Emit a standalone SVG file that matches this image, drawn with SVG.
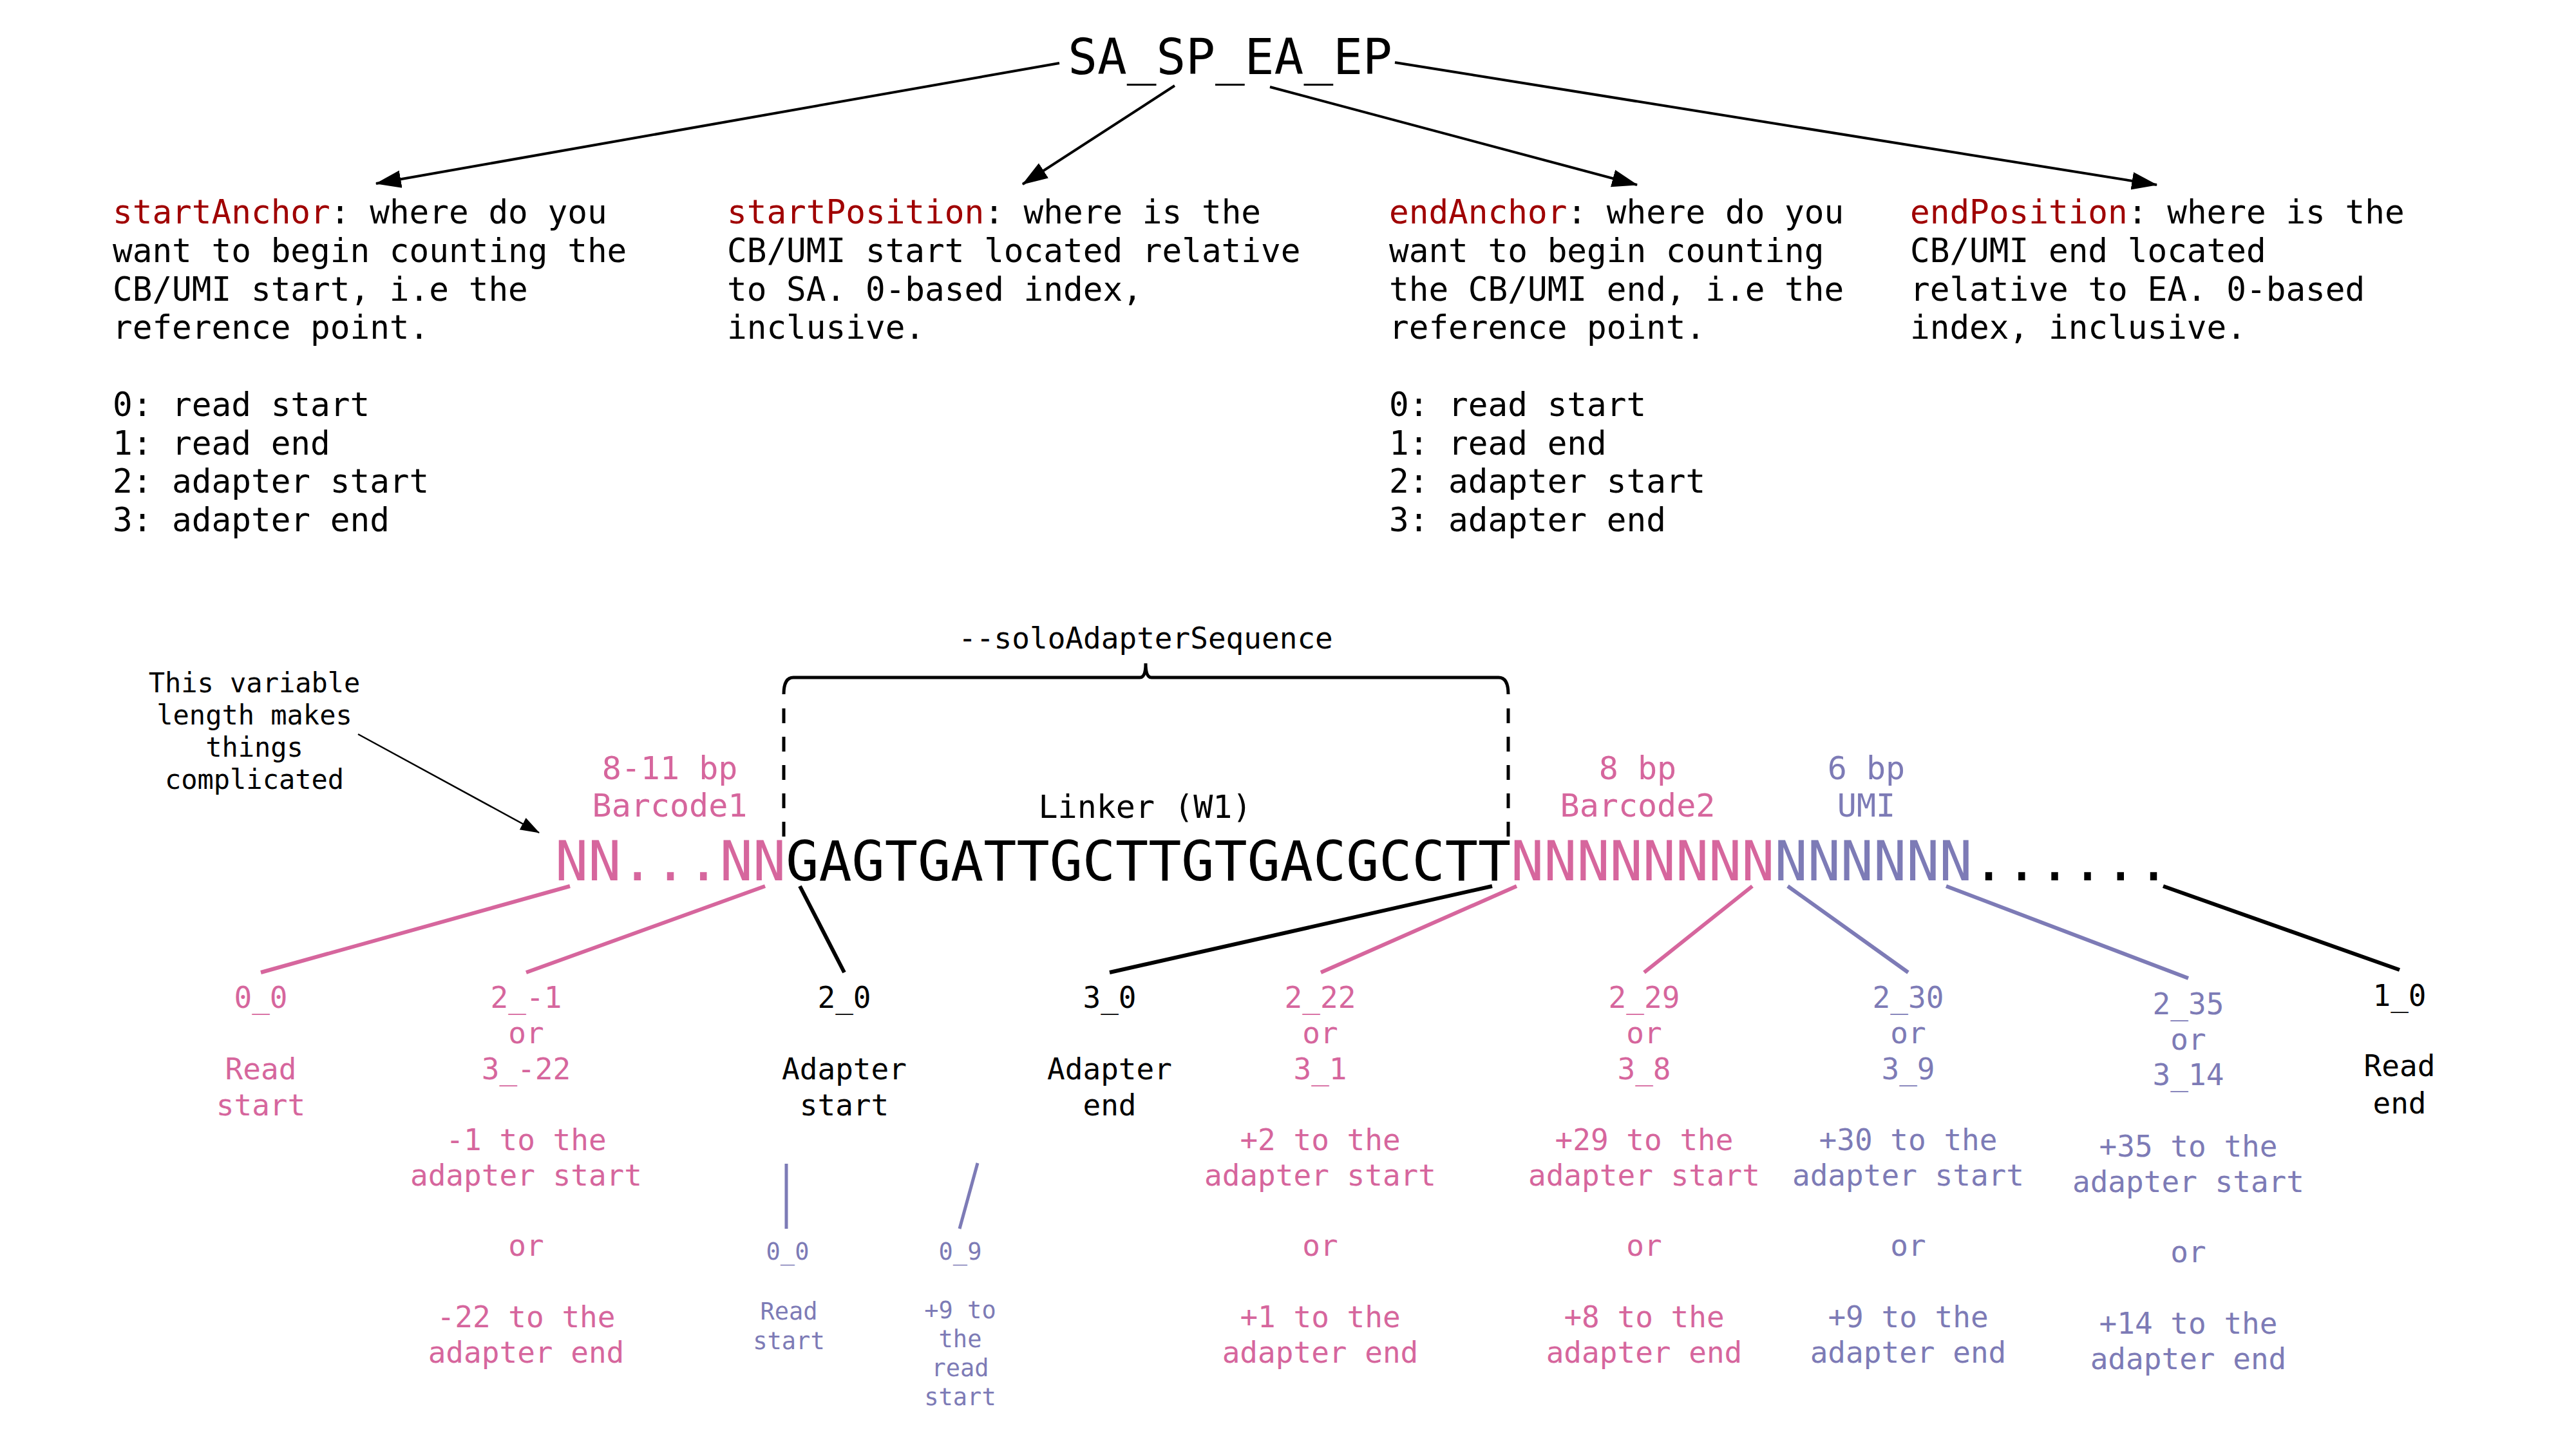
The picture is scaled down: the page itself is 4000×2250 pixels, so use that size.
<svg xmlns="http://www.w3.org/2000/svg" width="4000" height="2250" viewBox="0 0 4000 2250">
<style>
text{font-family:"DejaVu Sans Mono","Liberation Mono",monospace;fill:#000}
.top{font-size:51px}
.kw{fill:#a00000}
.lab{font-size:46px;text-anchor:middle}
.hdr{font-size:50px;text-anchor:middle}
.sm{font-size:37px;text-anchor:middle}
.pk{fill:#d6669d}
.pu{fill:#7d7bb6}
.lp{stroke:#d6669d;stroke-width:6;fill:none}
.lu{stroke:#7d7bb6;stroke-width:6;fill:none}
.lb{stroke:#000;stroke-width:6;fill:none}
.ar{stroke:#000;stroke-width:4;fill:none}
</style>
<defs>
<marker id="ah" markerUnits="userSpaceOnUse" markerWidth="40" markerHeight="30" viewBox="0 0 32 22" refX="31" refY="11" orient="auto">
<path d="M0,0 L32,11 L0,22 Z" fill="#000"/>
</marker>
<marker id="ahs" markerUnits="userSpaceOnUse" markerWidth="30" markerHeight="24" viewBox="0 0 26 18" refX="25" refY="9" orient="auto">
<path d="M0,0 L26,9 L0,18 Z" fill="#000"/>
</marker>
</defs>
<rect width="4000" height="2250" fill="#fff"/>

<g id="title">
<text x="1910" y="115" style="font-size:76px;text-anchor:middle">SA_SP_EA_EP</text>
</g>

<g id="startAnchor" class="top">
<text x="175" y="347" class="top"><tspan class="kw">startAnchor</tspan>: where do you</text>
<text x="175" y="407" class="top">want to begin counting the</text>
<text x="175" y="467" class="top">CB/UMI start, i.e the</text>
<text x="175" y="526" class="top">reference point.</text>
<text x="175" y="646" class="top">0: read start</text>
<text x="175" y="706" class="top">1: read end</text>
<text x="175" y="765" class="top">2: adapter start</text>
<text x="175" y="825" class="top">3: adapter end</text>
</g>

<g id="startPosition">
<text x="1129" y="347" class="top"><tspan class="kw">startPosition</tspan>: where is the</text>
<text x="1129" y="407" class="top">CB/UMI start located relative</text>
<text x="1129" y="467" class="top">to SA. 0-based index,</text>
<text x="1129" y="526" class="top">inclusive.</text>
</g>

<g id="endAnchor">
<text x="2157" y="347" class="top"><tspan class="kw">endAnchor</tspan>: where do you</text>
<text x="2157" y="407" class="top">want to begin counting</text>
<text x="2157" y="467" class="top">the CB/UMI end, i.e the</text>
<text x="2157" y="526" class="top">reference point.</text>
<text x="2157" y="646" class="top">0: read start</text>
<text x="2157" y="706" class="top">1: read end</text>
<text x="2157" y="765" class="top">2: adapter start</text>
<text x="2157" y="825" class="top">3: adapter end</text>
</g>

<g id="endPosition">
<text x="2966" y="347" class="top"><tspan class="kw">endPosition</tspan>: where is the</text>
<text x="2966" y="407" class="top">CB/UMI end located</text>
<text x="2966" y="467" class="top">relative to EA. 0-based</text>
<text x="2966" y="526" class="top">index, inclusive.</text>
</g>

<g id="adapterBracket">
<text x="1779" y="1007" style="font-size:46px;text-anchor:middle">--soloAdapterSequence</text>
<path d="M1217,1078 Q1217,1052 1232,1052 L1770,1052 Q1779,1052 1779,1030 Q1779,1052 1788,1052 L2327,1052 Q2342,1052 2342,1078" class="lb" style="stroke-width:5"/>
<line x1="1217" y1="1100" x2="1217" y2="1300" class="lb" style="stroke-width:5;stroke-dasharray:23,21"/>
<line x1="2342" y1="1100" x2="2342" y2="1300" class="lb" style="stroke-width:5;stroke-dasharray:23,21"/>
</g>

<g id="note">
<text x="395" y="1075" style="font-size:42px;text-anchor:middle">This variable</text>
<text x="395" y="1125" style="font-size:42px;text-anchor:middle">length makes</text>
<text x="395" y="1175" style="font-size:42px;text-anchor:middle">things</text>
<text x="395" y="1225" style="font-size:42px;text-anchor:middle">complicated</text>
</g>

<g id="segmentLabels">
<text x="1040" y="1210" class="hdr pk">8-11 bp</text>
<text x="1040" y="1268" class="hdr pk">Barcode1</text>
<text x="1778" y="1270" class="hdr">Linker (W1)</text>
<text x="2543" y="1210" class="hdr pk">8 bp</text>
<text x="2543" y="1268" class="hdr pk">Barcode2</text>
<text x="2898" y="1210" class="hdr pu">6 bp</text>
<text x="2898" y="1268" class="hdr pu">UMI</text>
</g>

<g id="sequence">
<text x="862" y="1367" style="font-size:85px"><tspan class="pk">NN...NN</tspan>GAGTGATTGCTTGTGACGCCTT<tspan class="pk">NNNNNNNN</tspan><tspan class="pu">NNNNNN</tspan>......</text>
</g>

<g id="connectors">
<line x1="1645" y1="98" x2="584" y2="285" class="ar" marker-end="url(#ah)"/>
<line x1="1824" y1="133" x2="1588" y2="286" class="ar" marker-end="url(#ah)"/>
<line x1="1972" y1="135" x2="2542" y2="287" class="ar" marker-end="url(#ah)"/>
<line x1="2166" y1="97" x2="3349" y2="287" class="ar" marker-end="url(#ah)"/>
<line x1="556" y1="1140" x2="837" y2="1293" class="ar" style="stroke-width:2.5" marker-end="url(#ahs)"/>
<line x1="885" y1="1376" x2="405" y2="1510" class="lp"/>
<line x1="1188" y1="1376" x2="817" y2="1510" class="lp"/>
<line x1="1242" y1="1376" x2="1311" y2="1510" class="lb"/>
<line x1="2317" y1="1376" x2="1723" y2="1510" class="lb"/>
<line x1="2355" y1="1376" x2="2051" y2="1510" class="lp"/>
<line x1="2721" y1="1376" x2="2553" y2="1510" class="lp"/>
<line x1="2776" y1="1376" x2="2963" y2="1510" class="lu"/>
<line x1="3022" y1="1376" x2="3398" y2="1519" class="lu"/>
<line x1="3359" y1="1376" x2="3726" y2="1506" class="lb"/>
<line x1="1221" y1="1807" x2="1221" y2="1908" class="lu" style="stroke-width:5"/>
<line x1="1518" y1="1806" x2="1490" y2="1908" class="lu" style="stroke-width:5"/>
</g>

<g id="pos00">
<text x="405" y="1565" class="lab pk">0_0</text>
<text x="405" y="1676" class="lab pk">Read</text>
<text x="405" y="1732" class="lab pk">start</text>
</g>
<g id="pos2m1">
<text x="817" y="1565" class="lab pk">2_-1</text>
<text x="817" y="1620" class="lab pk">or</text>
<text x="817" y="1676" class="lab pk">3_-22</text>
<text x="817" y="1786" class="lab pk">-1 to the</text>
<text x="817" y="1841" class="lab pk">adapter start</text>
<text x="817" y="1950" class="lab pk">or</text>
<text x="817" y="2061" class="lab pk">-22 to the</text>
<text x="817" y="2116" class="lab pk">adapter end</text>
</g>
<g id="pos20">
<text x="1311" y="1565" class="lab">2_0</text>
<text x="1311" y="1676" class="lab">Adapter</text>
<text x="1311" y="1732" class="lab">start</text>
</g>
<g id="pos30">
<text x="1723" y="1565" class="lab">3_0</text>
<text x="1723" y="1676" class="lab">Adapter</text>
<text x="1723" y="1732" class="lab">end</text>
</g>
<g id="pos222">
<text x="2050" y="1565" class="lab pk">2_22</text>
<text x="2050" y="1620" class="lab pk">or</text>
<text x="2050" y="1676" class="lab pk">3_1</text>
<text x="2050" y="1786" class="lab pk">+2 to the</text>
<text x="2050" y="1841" class="lab pk">adapter start</text>
<text x="2050" y="1950" class="lab pk">or</text>
<text x="2050" y="2061" class="lab pk">+1 to the</text>
<text x="2050" y="2116" class="lab pk">adapter end</text>
</g>
<g id="pos229">
<text x="2553" y="1565" class="lab pk">2_29</text>
<text x="2553" y="1620" class="lab pk">or</text>
<text x="2553" y="1676" class="lab pk">3_8</text>
<text x="2553" y="1786" class="lab pk">+29 to the</text>
<text x="2553" y="1841" class="lab pk">adapter start</text>
<text x="2553" y="1950" class="lab pk">or</text>
<text x="2553" y="2061" class="lab pk">+8 to the</text>
<text x="2553" y="2116" class="lab pk">adapter end</text>
</g>
<g id="pos230">
<text x="2963" y="1565" class="lab pu">2_30</text>
<text x="2963" y="1620" class="lab pu">or</text>
<text x="2963" y="1676" class="lab pu">3_9</text>
<text x="2963" y="1786" class="lab pu">+30 to the</text>
<text x="2963" y="1841" class="lab pu">adapter start</text>
<text x="2963" y="1950" class="lab pu">or</text>
<text x="2963" y="2061" class="lab pu">+9 to the</text>
<text x="2963" y="2116" class="lab pu">adapter end</text>
</g>
<g id="pos235">
<text x="3398" y="1575" class="lab pu">2_35</text>
<text x="3398" y="1630" class="lab pu">or</text>
<text x="3398" y="1685" class="lab pu">3_14</text>
<text x="3398" y="1796" class="lab pu">+35 to the</text>
<text x="3398" y="1851" class="lab pu">adapter start</text>
<text x="3398" y="1960" class="lab pu">or</text>
<text x="3398" y="2071" class="lab pu">+14 to the</text>
<text x="3398" y="2126" class="lab pu">adapter end</text>
</g>
<g id="pos10">
<text x="3726" y="1562" class="lab">1_0</text>
<text x="3726" y="1671" class="lab">Read</text>
<text x="3726" y="1729" class="lab">end</text>
</g>
<g id="umi00">
<text x="1223" y="1956" class="sm pu">0_0</text>
<text x="1225" y="2049" class="sm pu">Read</text>
<text x="1225" y="2095" class="sm pu">start</text>
</g>
<g id="umi09">
<text x="1491" y="1956" class="sm pu">0_9</text>
<text x="1491" y="2047" class="sm pu">+9 to</text>
<text x="1491" y="2092" class="sm pu">the</text>
<text x="1491" y="2137" class="sm pu">read</text>
<text x="1491" y="2182" class="sm pu">start</text>
</g>
</svg>
